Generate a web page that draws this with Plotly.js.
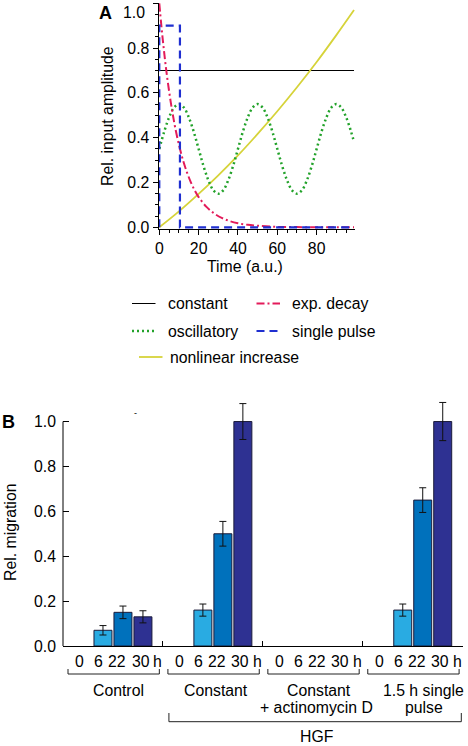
<!DOCTYPE html>
<html><head><meta charset="utf-8">
<script src="https://cdn.plot.ly/plotly-3.0.1.min.js"></script>
<style>html,body{margin:0;padding:0;background:#fff}</style>
</head><body><div id="chart" style="width:468px;height:746px"></div>
<script>
// ---------- Panel A data ----------
const seriesNames = ['constant', 'exp. decay', 'oscillatory', 'single pulse', 'nonlinear increase'];
const constantTime = [0, 99];
const constantVal = [0.7, 0.7];
const decayTime = [0, 1, 2, 3, 4, 5, 6, 7, 8, 10, 12, 14, 16, 18, 20, 24, 28, 32, 36, 40, 45, 50, 60, 70, 80, 90, 99];
const decayVal = [1.0, 0.905, 0.819, 0.741, 0.670, 0.607, 0.549, 0.497, 0.449, 0.368, 0.301, 0.247, 0.202, 0.165, 0.135, 0.091, 0.061, 0.041, 0.027, 0.018, 0.011, 0.007, 0.002, 0.001, 0, 0, 0];
const oscTime = [0, 2.5, 5, 7.5, 10, 12.5, 15, 17.5, 20, 22.5, 25, 27.5, 30, 32.5, 35, 37.5, 40, 42.5, 45, 47.5, 50, 52.5, 55, 57.5, 60, 62.5, 65, 67.5, 70, 72.5, 75, 77.5, 80, 82.5, 85, 87.5, 90, 92.5, 95, 97.5, 99];
const oscVal = [0.35, 0.427, 0.491, 0.535, 0.55, 0.535, 0.491, 0.427, 0.35, 0.273, 0.209, 0.165, 0.15, 0.165, 0.209, 0.273, 0.35, 0.427, 0.491, 0.535, 0.55, 0.535, 0.491, 0.427, 0.35, 0.273, 0.209, 0.165, 0.15, 0.165, 0.209, 0.273, 0.35, 0.427, 0.491, 0.535, 0.55, 0.535, 0.491, 0.427, 0.381];
const pulseTime = [0, 0, 10.5, 10.5, 99];
const pulseVal = [0, 0.9, 0.9, 0, 0];
const nonlinTime = [0, 10, 20, 30, 40, 50, 60, 70, 80, 90, 99];
const nonlinVal = [0, 0.071, 0.149, 0.232, 0.321, 0.417, 0.518, 0.625, 0.738, 0.858, 0.970];
const aTickVals = [0, 0.2, 0.4, 0.6, 0.8, 1.0];
const aTickText = ['0.0', '0.2', '0.4', '0.6', '0.8', ''];
const timeTickVals = [0, 20, 40, 60, 80];

// ---------- Panel B data ----------
const groupNames = ['Control', 'Constant', 'Constant<br>+ actinomycin D', '1.5 h single<br>pulse'];
const timeLabels = ['0', '6', '22', '30'];
const timeUnit = 'h';
const mig0h = [0, 0, 0, 0];
const mig6h = [0.07, 0.16, 0, 0.16];
const err6h = [0.021, 0.027, null, 0.027];
const mig22h = [0.15, 0.50, 0, 0.65];
const err22h = [0.028, 0.055, null, 0.055];
const mig30h = [0.13, 1.0, 0, 1.0];
const err30h = [0.027, 0.08, null, 0.085];
const hgfLabel = 'HGF';
const bTickVals = [0, 0.2, 0.4, 0.6, 0.8, 1.0];
const bTickText = ['0.0', '0.2', '0.4', '0.6', '0.8', '1.0'];

// ---------- layout helpers ----------
const W = 468, H = 746;
const FONT = 'Liberation Sans, Arial, Helvetica, sans-serif';
const FS = 15.8;
const px = p => p / W;
const py = p => 1 - p / H;

const colors = {
  constant: '#000000', decay: '#e31b5a', osc: '#22a22a', pulse: '#1f2fd0', nonlin: '#d6d33a',
  b6: '#29abe2', b22: '#0071bc', b30: '#2e3192', outline: '#1b1b3a'
};
const dashes = { decay: '8px,3px,2px,3px', osc: '2px,3px', pulse: '8px,5px' };

const traces = [
  { x: constantTime, y: constantVal, mode: 'lines', name: seriesNames[0], line: { color: colors.constant, width: 1 }, xaxis: 'x', yaxis: 'y' },
  { x: nonlinTime, y: nonlinVal, mode: 'lines', name: seriesNames[4], line: { color: colors.nonlin, width: 1.8, shape: 'spline' }, xaxis: 'x', yaxis: 'y' },
  { x: oscTime, y: oscVal, mode: 'lines', name: seriesNames[2], line: { color: colors.osc, width: 2.5, dash: dashes.osc, shape: 'spline' }, xaxis: 'x', yaxis: 'y' },
  { x: decayTime, y: decayVal, mode: 'lines', name: seriesNames[1], line: { color: colors.decay, width: 2, dash: dashes.decay, shape: 'spline' }, xaxis: 'x', yaxis: 'y' },
  { x: pulseTime, y: pulseVal, mode: 'lines', name: seriesNames[3], line: { color: colors.pulse, width: 2.2, dash: dashes.pulse }, xaxis: 'x', yaxis: 'y' }
];

const barSets = [
  { v: mig0h, e: null, c: colors.b6, k: 0 },
  { v: mig6h, e: err6h, c: colors.b6, k: 1 },
  { v: mig22h, e: err22h, c: colors.b22, k: 2 },
  { v: mig30h, e: err30h, c: colors.b30, k: 3 }
];
barSets.forEach(s => {
  const xs = s.v.map((_, g) => 5 * g + 1 + s.k);
  traces.push({
    type: 'bar', x: xs, y: s.v, width: 0.9,
    marker: { color: s.c, line: { color: colors.outline, width: s.v.map(v => v > 0 ? 1 : 0) } },
    xaxis: 'x2', yaxis: 'y2', showlegend: false, name: timeLabels[s.k] + ' ' + timeUnit
  });
  if (s.e) {
    const idx = s.e.map((e, i) => e == null ? -1 : i).filter(i => i >= 0);
    traces.push({
      type: 'scatter', mode: 'markers', x: idx.map(i => xs[i]), y: idx.map(i => s.v[i]),
      marker: { size: 1, opacity: 0 },
      error_y: { type: 'data', array: idx.map(i => s.e[i]), visible: true, color: '#111111', thickness: 1, width: 3.5 },
      xaxis: 'x2', yaxis: 'y2', showlegend: false, cliponaxis: false
    });
  }
});

const annotations = [];
const shapes = [];
const txt = (text, x, y, opts) => Object.assign({ text, x, y, xref: 'paper', yref: 'paper', showarrow: false, font: { family: FONT, size: FS, color: '#000' }, xanchor: 'center', yanchor: 'middle' }, opts || {});

// Panel labels
annotations.push(txt('<b>A</b>', px(96.5), py(13.3), { xanchor: 'left', font: { family: FONT, size: 18, color: '#000' } }));
annotations.push(txt('<b>B</b>', px(0), py(422), { xanchor: 'left', font: { family: FONT, size: 18, color: '#000' } }));
// Panel A titles and 1.0 label
annotations.push(txt('Rel. input amplitude', px(107), py(116), { textangle: -90 }));
annotations.push(txt('Time (a.u.)', px(245), py(266)));
annotations.push(txt('1.0', px(147), py(12.3), { xanchor: 'right' }));
// Panel B title
annotations.push(txt('Rel. migration', px(10), py(533), { textangle: -90 }));
// stray mark
annotations.push(txt('-', px(135), py(413), { font: { family: FONT, size: 9, color: '#000' } }));

// Legend (manual)
const legendItems = [
  { name: seriesNames[0], x0: 132, y: 303.5, color: colors.constant, width: 1, dash: 'solid', tx: 166 },
  { name: seriesNames[1], x0: 256.5, y: 303.5, color: colors.decay, width: 2, dash: dashes.decay, tx: 290 },
  { name: seriesNames[2], x0: 132, y: 331, color: colors.osc, width: 2.5, dash: dashes.osc, tx: 166 },
  { name: seriesNames[3], x0: 256.5, y: 331, color: colors.pulse, width: 2.2, dash: dashes.pulse, tx: 290 },
  { name: seriesNames[4], x0: 139, y: 357, color: colors.nonlin, width: 1.8, dash: 'solid', tx: 168 }
];
legendItems.forEach(it => {
  shapes.push({ type: 'line', xref: 'paper', yref: 'paper', x0: px(it.x0), x1: px(it.x0 + 23.5), y0: py(it.y), y1: py(it.y), line: { color: it.color, width: it.width, dash: it.dash } });
  annotations.push(txt(it.name, px(it.tx), py(it.y), { xanchor: 'left' }));
});

// Panel B x labels
const labOff = [0.82, 1.8, 2.7, 3.88];
groupNames.forEach((gname, g) => {
  timeLabels.forEach((lab, k) => {
    annotations.push(txt(lab, 5 * g + labOff[k], py(661), { xref: 'x2' }));
  });
  annotations.push(txt(timeUnit, 5 * g + 4.75, py(661), { xref: 'x2' }));
  const a = 5 * g + 0.25, b = 5 * g + 4.82;
  shapes.push({ type: 'path', xref: 'x2', yref: 'paper', path: `M ${a},${py(669)} L ${a},${py(674)} L ${b},${py(674)} L ${b},${py(669)}`, line: { color: '#222', width: 1 } });
});
const groupCenters = [2.77, 7.66, 12.8, 18.05];
groupNames.forEach((gname, g) => {
  const lines = gname.split('<br>');
  lines.forEach((ln, i) => {
    let cx = groupCenters[g];
    if (g === 2 && i === 1) cx = 12.7;
    annotations.push(txt(ln, cx, py(i === 0 ? 690 : 707.3), { xref: 'x2' }));
  });
});
// HGF bracket
shapes.push({ type: 'path', xref: 'x2', yref: 'paper', path: `M 5.3,${py(713)} L 5.3,${py(721.7)} L 19.93,${py(721.7)} L 19.93,${py(713)}`, line: { color: '#222', width: 1 } });
annotations.push(txt(hgfLabel, 12.7, py(736.7), { xref: 'x2' }));
// Panel B y-axis line (0 to 1.0)
shapes.push({ type: 'line', xref: 'paper', yref: 'y2', x0: px(63), x1: px(63), y0: 0, y1: 1.0, line: { color: '#000', width: 1 } });

const layout = {
  width: W, height: H, margin: { l: 0, r: 0, t: 0, b: 0 },
  paper_bgcolor: '#fff', plot_bgcolor: 'rgba(0,0,0,0)',
  showlegend: false,
  font: { family: FONT, size: FS, color: '#000' },
  barmode: 'overlay',
  xaxis: {
    domain: [px(158.5), px(355.2)], range: [-0.4, 99.6], anchor: 'y',
    tickmode: 'array', tickvals: timeTickVals, ticks: 'outside', ticklen: 5, tickcolor: '#000',
    minor: { tickmode: 'linear', tick0: 0, dtick: 5, ticks: 'outside', ticklen: 3, tickcolor: '#000' },
    showline: true, linecolor: '#000', linewidth: 1, showgrid: false, zeroline: false,
    tickfont: { family: FONT, size: FS }
  },
  yaxis: {
    domain: [py(229.09), py(2.85)], range: [-0.008, 1.002], anchor: 'x',
    tickmode: 'array', tickvals: aTickVals, ticktext: aTickText, ticks: 'outside', ticklen: 5, tickcolor: '#000',
    minor: { tickmode: 'linear', tick0: 0, dtick: 0.05, ticks: 'outside', ticklen: 3, tickcolor: '#000' },
    showline: true, linecolor: '#000', linewidth: 1, showgrid: false, zeroline: false,
    tickfont: { family: FONT, size: FS }
  },
  xaxis2: {
    domain: [px(63), px(462.7)], range: [0, 20], anchor: 'y2',
    tickmode: 'array', tickvals: [5, 10, 15, 20], ticks: 'inside', ticklen: 5, tickcolor: '#000',
    showticklabels: false, showline: true, linecolor: '#000', linewidth: 1, showgrid: false, zeroline: false
  },
  yaxis2: {
    domain: [py(646), py(394.6)], range: [0, 1.12], anchor: 'x2',
    tickmode: 'array', tickvals: bTickVals, ticktext: bTickText, ticks: 'inside', ticklen: 6, tickcolor: '#000',
    showline: false, showgrid: false, zeroline: false, ticklabelstandoff: 6,
    tickfont: { family: FONT, size: FS }
  },
  annotations, shapes
};

Plotly.newPlot('chart', traces, layout, { staticPlot: true, displayModeBar: false });
</script>
</body></html>
